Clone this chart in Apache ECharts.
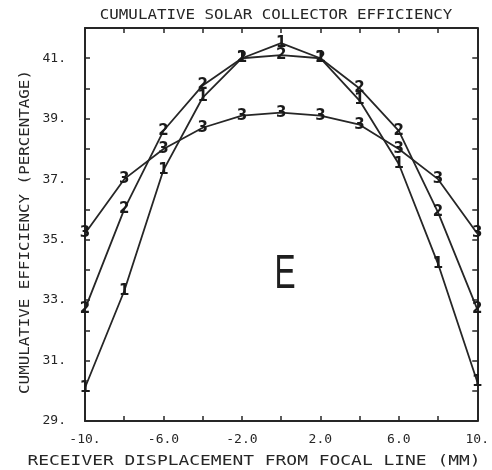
<!DOCTYPE html>
<html>
<head>
<meta charset="utf-8">
<script src="https://cdn.jsdelivr.net/npm/echarts@6/dist/echarts.min.js"></script>
<style>
  html, body { margin: 0; padding: 0; background: #fff; }
  #chart { width: 492px; height: 470px; }
</style>
</head>
<body>
<div id="chart"></div>
<script>
// Receiver displacement from the focal line (mm)
const displacement = [-10, -8, -6, -4, -2, 0, 2, 4, 6, 8, 10];

// Cumulative efficiency (%) for the three collector runs
const run1 = [30.1, 33.3, 37.3, 39.7, 41.0, 41.5, 41.0, 39.6, 37.5, 34.2, 30.3];
const run2 = [32.7, 36.0, 38.6, 40.1, 41.0, 41.1, 41.0, 40.0, 38.6, 35.9, 32.7];
const run3 = [35.2, 37.0, 38.0, 38.7, 39.1, 39.2, 39.1, 38.8, 38.0, 37.0, 35.2];

const runNames = ['1', '2', '3'];

// Tick labels drawn on the axes
const xTickLabels = { '-10': '-10.', '-6': '-6.0', '-2': '-2.0', '2': '2.0', '6': '6.0', '10': '10.' };
const yTickLabels = { '29': '29.', '31': '31.', '33': '33.', '35': '35.', '37': '37.', '39': '39.', '41': '41.' };

const ink = '#262626';
const mono = '"DejaVu Sans Mono", "Liberation Mono", monospace';

const chart = echarts.init(document.getElementById('chart'), null, { renderer: 'canvas' });

function makeSeries(name, values) {
  return {
    name: name,
    type: 'line',
    xAxisIndex: 0,
    yAxisIndex: 0,
    data: displacement.map((x, i) => [x, values[i]]),
    symbol: 'circle',
    symbolSize: 2,
    showSymbol: true,
    itemStyle: { color: 'rgba(0,0,0,0)', borderWidth: 0 },
    lineStyle: { color: ink, width: 1.8 },
    label: {
      show: true,
      position: 'inside',
      formatter: name,
      color: '#1a1a1a',
      fontFamily: '"DejaVu Sans", sans-serif',
      fontSize: 15,
      fontWeight: 'bold'
    },
    labelLayout: { hideOverlap: false },
    emphasis: { disabled: true },
    animation: false,
    z: 3
  };
}

const axisBase = {
  type: 'value',
  axisLine: { show: true, onZero: false, lineStyle: { color: ink, width: 2 } },
  axisTick: { show: true, inside: true, length: 5, lineStyle: { color: ink, width: 1.5 } },
  splitLine: { show: false }
};

const option = {
  backgroundColor: '#ffffff',
  animation: false,
  grid: { left: 85, right: 14, top: 28, bottom: 49, containLabel: false },
  xAxis: [
    Object.assign({}, axisBase, {
      position: 'bottom',
      min: -10, max: 10, interval: 2,
      axisLabel: {
        show: true, margin: 12, color: ink, fontFamily: mono, fontSize: 13,
        showMinLabel: true, showMaxLabel: true,
        formatter: v => xTickLabels[String(v)] || ''
      }
    }),
    Object.assign({}, axisBase, {
      position: 'top',
      min: -10, max: 10, interval: 2,
      axisLabel: { show: false }
    })
  ],
  yAxis: [
    Object.assign({}, axisBase, {
      position: 'left',
      min: 29, max: 42, interval: 1,
      axisLabel: {
        show: true, margin: 19, color: ink, fontFamily: mono, fontSize: 13,
        formatter: v => yTickLabels[String(v)] || ''
      }
    }),
    Object.assign({}, axisBase, {
      position: 'right',
      min: 29, max: 42, interval: 1,
      axisLabel: { show: false }
    })
  ],
  series: [
    makeSeries(runNames[0], run1),
    makeSeries(runNames[1], run2),
    makeSeries(runNames[2], run3)
  ],
  graphic: [
    {
      type: 'text', x: 276, y: 15, scaleX: 1.13,
      style: {
        text: 'CUMULATIVE SOLAR COLLECTOR EFFICIENCY',
        fill: ink, font: '14px ' + mono,
        textAlign: 'center', textVerticalAlign: 'middle'
      }
    },
    {
      type: 'text', x: 254, y: 461, scaleX: 1.28,
      style: {
        text: 'RECEIVER DISPLACEMENT FROM FOCAL LINE (MM)',
        fill: ink, font: '14px ' + mono,
        textAlign: 'center', textVerticalAlign: 'middle'
      }
    },
    {
      type: 'text', x: 25, y: 232, rotation: Math.PI / 2, scaleX: 1.13,
      style: {
        text: 'CUMULATIVE EFFICIENCY (PERCENTAGE)',
        fill: ink, font: '14px ' + mono,
        textAlign: 'center', textVerticalAlign: 'middle'
      }
    },
    {
      type: 'text', x: 285, y: 275, scaleX: 0.66,
      style: {
        text: 'E',
        fill: '#1e1e1e', font: '48px "Liberation Sans", Arial, sans-serif',
        textAlign: 'center', textVerticalAlign: 'middle'
      }
    }
  ]
};

chart.setOption(option);
</script>
</body>
</html>
